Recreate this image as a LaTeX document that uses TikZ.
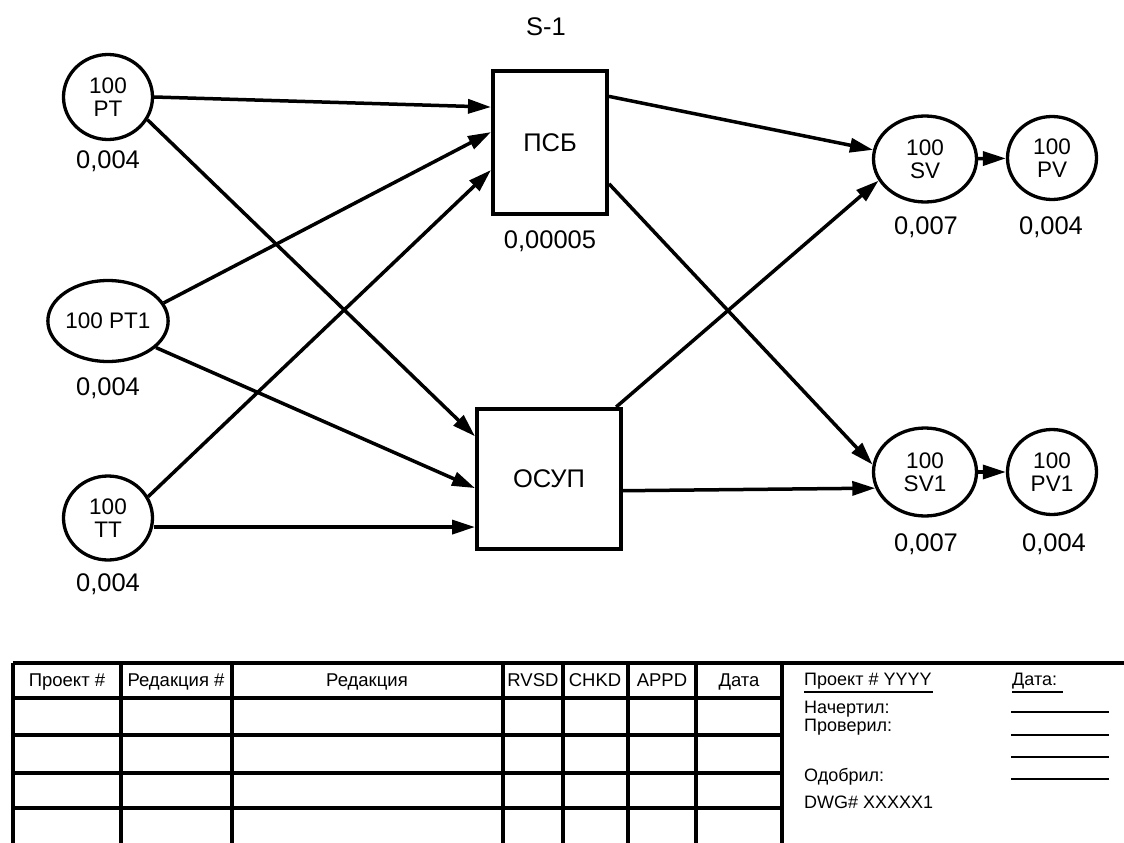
\documentclass[tikz,border=0pt]{standalone}
\usepackage{fontspec}
\setmainfont{Liberation Sans}
\usetikzlibrary{arrows.meta,shapes.geometric,calc}
\begin{document}
\begin{tikzpicture}[x=1pt,y=-1pt,
  circ/.style={draw, ellipse, line width=3.3pt, inner sep=0pt, align=center, font=\fontsize{22.5}{23}\selectfont},
  box/.style={draw, rectangle, line width=4pt, inner sep=0pt, font=\fontsize{25.5}{27}\selectfont},
  val/.style={font=\fontsize{25.5}{27}\selectfont, inner sep=0pt},
  conn/.style={line width=3.5pt, -{Triangle[length=23pt,width=14pt]}},
  gridline/.style={line width=3.3pt},
  thd/.style={font=\fontsize{18.5}{20}\selectfont, inner sep=0pt, anchor=base},
  tbk/.style={font=\fontsize{18}{20}\selectfont, inner sep=0pt, anchor=base west},
  uline/.style={line width=2.8pt}
]
\useasboundingbox[fill=white] (0,0) rectangle (1124,843);

% title
\node[val] (title) at (546,27) {S-1};

% nodes
\node[circ, minimum width=89pt, minimum height=85pt] (PT) at (108,97) {100\\PT};
\node[circ, minimum width=116pt, minimum height=81pt] (PT1) at (108,321) {100 PT1};
\node[circ, minimum width=89pt, minimum height=84pt] (TT) at (108,518) {100\\TT};
\node[box, minimum width=114pt, minimum height=143pt] (PSB) at (550,142.5) {ПСБ};
\node[box, minimum width=144pt, minimum height=140pt] (OSUP) at (549,479) {ОСУП};
\node[circ, minimum width=103pt, minimum height=86pt] (SV) at (925,159) {100\\SV};
\node[circ, minimum width=89pt, minimum height=83pt] (PV) at (1052,158) {100\\PV};
\node[circ, minimum width=103pt, minimum height=88pt] (SV1) at (925,472) {100\\SV1};
\node[circ, minimum width=89pt, minimum height=85pt] (PV1) at (1052,472) {100\\PV1};

% values
\node[val] (vPT) at (108,161) {0,004};
\node[val] (vPT1) at (108,388) {0,004};
\node[val] (vTT) at (108,584) {0,004};
\node[val] (vPSB) at (550,241) {0,00005};
\node[val] (vSV) at (926,227) {0,007};
\node[val] (vPV) at (1051,227) {0,004};
\node[val] (vSV1) at (926,544) {0,007};
\node[val] (vPV1) at (1054,544) {0,004};

% connectors
\draw[conn] (PT.east) -- (PSB.149);
\draw[conn] (PT1.18) -- (PSB.170);
\draw[conn] (TT.28) -- (PSB.205);
\draw[conn] (PT.-30) -- (OSUP.150);
\draw[conn] (PT1.-29) -- (OSUP.187);
\draw[conn] (TT.east |- OSUP.213) -- (OSUP.213);
\draw[conn] (PSB.38) -- (SV.170);
\draw[conn] (PSB.-35) -- (SV1.172);
\draw[conn] (OSUP.47) -- (SV.205);
\draw[conn] (OSUP.-9) -- (SV1.198);
\draw[conn] (SV) -- (PV);
\draw[conn] (SV1) -- (PV1);

% table
\draw[gridline] (13,663) -- (1124,663);
\foreach \yy in {698,735,773,808} \draw[gridline] (13,\yy) -- (782,\yy);
\foreach \xx in {13,121,232,503,563,628,696,782} \draw[gridline] (\xx,663) -- (\xx,845);

\node[thd] (h1) at (67,686) {Проект \#};
\node[thd] (h2) at (176,686) {Редакция \#};
\node[thd] (h3) at (367,686) {Редакция};
\node[thd] (h4) at (533,686) {RVSD};
\node[thd] (h5) at (595,686) {CHKD};
\node[thd] (h6) at (662,686) {APPD};
\node[thd] (h7) at (739,686) {Дата};

\node[tbk] (p1) at (804,685) {Проект \# YYYY};
\node[tbk] (p2) at (1012,685) {Дата:};
\node[tbk] (p3) at (804,713) {Начертил:};
\node[tbk] (p4) at (804,731) {Проверил:};
\node[tbk] (p5) at (804,781) {Одобрил:};
\node[tbk] (p6) at (804,808) {DWG\# XXXXX1};

\draw[uline] (804,692) -- (933,692);
\draw[uline] (1012,692) -- (1063,692);
\foreach \yy in {712,735,757,779} \draw[uline] (1011,\yy) -- (1109,\yy);
\end{tikzpicture}
\end{document}
